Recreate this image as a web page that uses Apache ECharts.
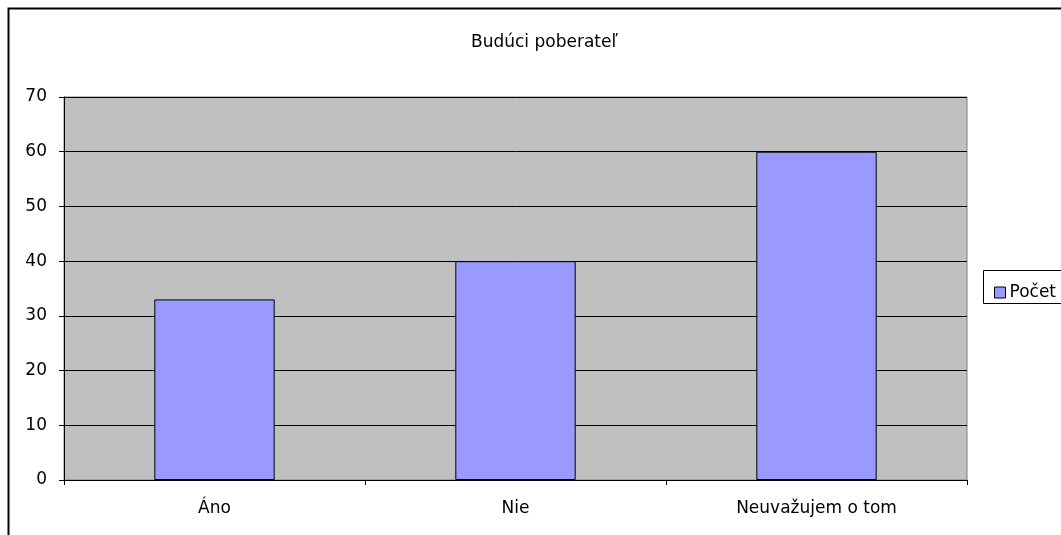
<!DOCTYPE html>
<html><head><meta charset="utf-8">
<script src="https://cdn.jsdelivr.net/npm/echarts@6/dist/echarts.min.js"></script>
<style>html,body{margin:0;padding:0;background:#fff}#c{width:1061px;height:535px}</style>
</head><body><div id="c"></div>
<script>
const categories = ["Áno", "Nie", "Neuvažujem o tom"];
const values = [33, 40, 60];
const seriesName = "Počet";
const titleText = "Budúci poberateľ";
const yMin = 0, yMax = 70, yStep = 10;

const chart = echarts.init(document.getElementById('c'), null, {renderer: 'canvas'});
const font = "'DejaVu Sans', sans-serif";
chart.setOption({
  animation: false,
  backgroundColor: '#ffffff',
  title: {text: titleText, left: 466, top: 29, textStyle: {fontFamily: font, fontSize: 17, fontWeight: 'normal', color: '#000'}},
  grid: {left: 64, right: 94, top: 97, bottom: 55, show: true, backgroundColor: '#c0c0c0', borderColor: '#808080', borderWidth: 1},
  legend: {data: [seriesName], left: 989, top: 279, itemWidth: 11, itemHeight: 11, itemGap: 5, icon: 'rect',
    textStyle: {fontFamily: font, fontSize: 17, color: '#000', padding: [0,0,0,-1]},
    itemStyle: {borderColor: '#000', borderWidth: 1}},
  xAxis: {type: 'category', data: categories,
    axisLine: {lineStyle: {color: '#000', width: 1}},
    axisTick: {show: true, length: 5, lineStyle: {color: '#000'}},
    axisLabel: {fontFamily: font, fontSize: 17, color: '#000', margin: 20}},
  yAxis: {type: 'value', min: yMin, max: yMax, interval: yStep,
    axisLine: {show: true, lineStyle: {color: '#000000', width: 1}},
    axisTick: {show: true, length: 5, lineStyle: {color: '#000000'}},
    axisLabel: {fontFamily: font, fontSize: 17, color: '#000', margin: 17},
    splitLine: {show: true, lineStyle: {color: '#000000', width: 1, opacity: 1, type: 'solid'}}},
  series: [{name: seriesName, type: 'bar', data: values, barCategoryGap: '60%',
    itemStyle: {color: '#9999ff', borderColor: '#000', borderWidth: 1}}],
  graphic: [
    {type: 'rect', shape: {x: 8.5, y: 8.5, width: 1100, height: 600}, style: {fill: 'none', stroke: '#000', lineWidth: 2}, silent: true, z: -1},
    {type: 'rect', shape: {x: 983.5, y: 270.5, width: 120, height: 33}, style: {fill: '#fff', stroke: '#000', lineWidth: 1}, silent: true, z: -1}
  ]
});
</script></body></html>
